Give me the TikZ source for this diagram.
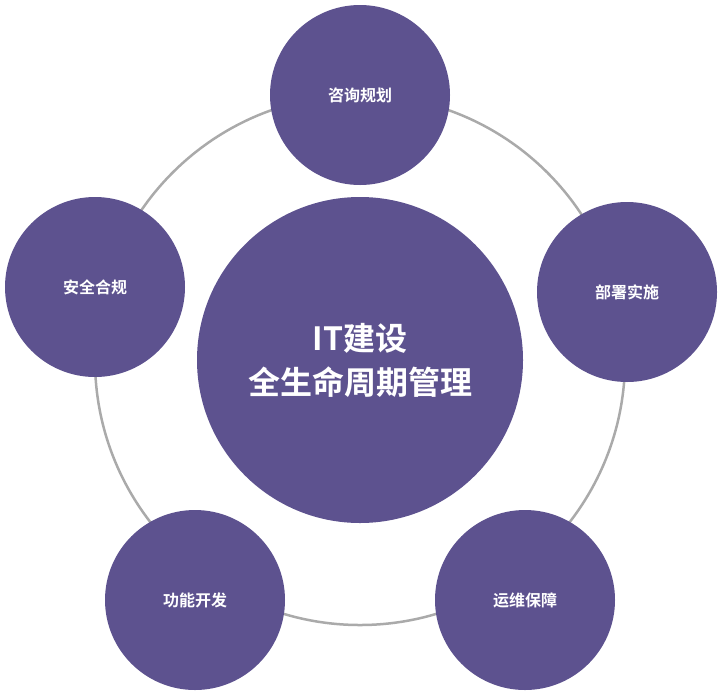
\documentclass[tikz,border=0pt]{standalone}
\usepackage{fontspec}
\newfontfamily\cjk{Noto Sans CJK SC Bold}
\definecolor{pur}{HTML}{5D528F}
\definecolor{ring}{HTML}{AAAAAA}
\begin{document}
\begin{tikzpicture}[x=1pt,y=-1pt,
  sat/.style={circle,fill=pur,minimum size=180pt,inner sep=0pt,text=white,font=\cjk\fontsize{16}{18}\selectfont},
  hub/.style={circle,fill=pur,minimum size=326pt,inner sep=0pt,text=white,align=center,font=\cjk\fontsize{32}{44}\selectfont}]
\useasboundingbox (0,0) rectangle (719,694);
\draw[ring,line width=2.5pt] (360,360) circle (265);
\node[hub] (c) at (360,360) {IT建设\\全生命周期管理};
\node[sat] (a) at (360,95) {咨询规划};
\node[sat] (b) at (627,292) {部署实施};
\node[sat] (d) at (525,600) {运维保障};
\node[sat] (e) at (195,600) {功能开发};
\node[sat] (f) at (95,287) {安全合规};
\end{tikzpicture}
\end{document}
